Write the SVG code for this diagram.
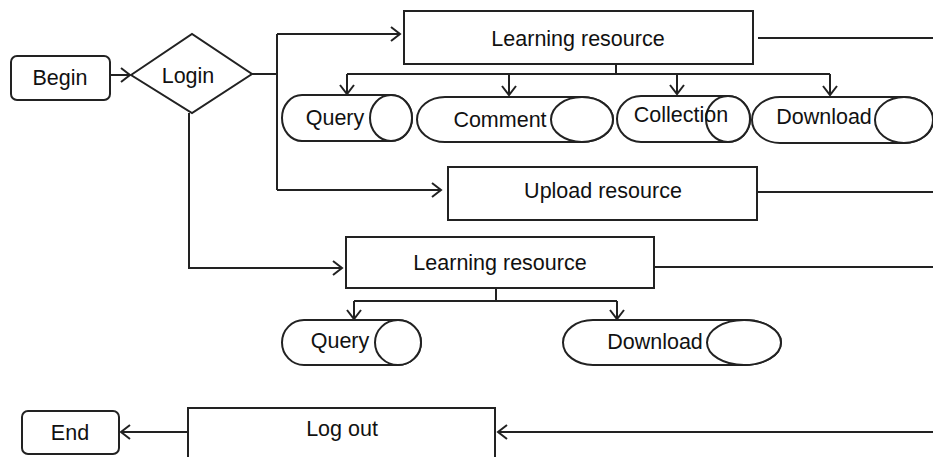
<svg xmlns="http://www.w3.org/2000/svg" width="933" height="457" viewBox="0 0 933 457">
<style>
.s{fill:#fff;stroke:#222;stroke-width:2}
.c{fill:none;stroke:#222;stroke-width:2}
.t{font-family:"Liberation Sans",Arial,sans-serif;font-size:21.5px;fill:#111;text-anchor:middle}
</style>
<defs>
<marker id="a" markerUnits="userSpaceOnUse" markerWidth="12" markerHeight="16" refX="10" refY="8" orient="auto">
<path d="M1,1 L10,8 L1,15" fill="none" stroke="#222" stroke-width="2"/>
</marker>
</defs>
<rect width="933" height="457" fill="#fff"/>
<g id="connectors" class="c">
<line x1="110" y1="75" x2="130" y2="75" marker-end="url(#a)"/>
<polyline points="252,74 277,74"/>
<line x1="277" y1="34" x2="277" y2="190"/>
<line x1="277" y1="34" x2="400" y2="34" marker-end="url(#a)"/>
<line x1="277" y1="190" x2="441" y2="190" marker-end="url(#a)"/>
<polyline points="189,113 189,268 342,268" marker-end="url(#a)"/>
<line x1="616" y1="64" x2="616" y2="74"/>
<line x1="347" y1="74" x2="830" y2="74"/>
<line x1="347" y1="74" x2="347" y2="94" marker-end="url(#a)"/>
<line x1="509" y1="74" x2="509" y2="95" marker-end="url(#a)"/>
<line x1="677" y1="74" x2="677" y2="94" marker-end="url(#a)"/>
<line x1="830" y1="74" x2="830" y2="95" marker-end="url(#a)"/>
<line x1="496" y1="289" x2="496" y2="301"/>
<line x1="354" y1="301" x2="617" y2="301"/>
<line x1="354" y1="301" x2="354" y2="319" marker-end="url(#a)"/>
<line x1="617" y1="301" x2="617" y2="319" marker-end="url(#a)"/>
<line x1="758" y1="38" x2="933" y2="38"/>
<line x1="757" y1="192" x2="933" y2="192"/>
<line x1="654" y1="267" x2="933" y2="267"/>
<line x1="933" y1="432" x2="498" y2="432" marker-end="url(#a)"/>
<line x1="188" y1="432" x2="121" y2="432" marker-end="url(#a)"/>
</g>
<g id="begin"><rect class="s" x="11" y="56" width="99" height="44" rx="6"/><text class="t" x="60" y="85">Begin</text></g>
<g id="login"><polygon class="s" points="131,75 192,34 252,74 192,113"/><text class="t" x="188" y="83">Login</text></g>
<g id="learning1"><rect class="s" x="404" y="11" width="349" height="53"/><text class="t" x="578" y="46">Learning resource</text></g>
<g id="query1"><path class="s" d="M302,95 H391 A21,23 0 0 1 391,141 H302 A20,23 0 0 1 302,95 Z"/><ellipse class="s" cx="391" cy="118" rx="21" ry="23"/><text class="t" x="335" y="125">Query</text></g>
<g id="comment"><path class="s" d="M445,97 H582 A31,22.5 0 0 1 582,142 H445 A28,22.5 0 0 1 445,97 Z"/><ellipse class="s" cx="582" cy="119.5" rx="31" ry="22.5"/><text class="t" x="500" y="127">Comment</text></g>
<g id="collection"><path class="s" d="M641,96 H728 A22,23 0 0 1 728,142 H641 A24,23 0 0 1 641,96 Z"/><ellipse class="s" cx="728" cy="119" rx="22" ry="23"/><text class="t" x="681" y="122">Collection</text></g>
<g id="download1"><path class="s" d="M780,97 H904 A29,23 0 0 1 904,143 H780 A28,23 0 0 1 780,97 Z"/><ellipse class="s" cx="904" cy="120" rx="29" ry="23"/><text class="t" x="824" y="124">Download</text></g>
<g id="upload"><rect class="s" x="448" y="167" width="309" height="53"/><text class="t" x="603" y="198">Upload resource</text></g>
<g id="learning2"><rect class="s" x="346" y="237" width="308" height="51"/><text class="t" x="500" y="270">Learning resource</text></g>
<g id="query2"><path class="s" d="M304,320 H398 A23,22.5 0 0 1 398,365 H304 A22,22.5 0 0 1 304,320 Z"/><ellipse class="s" cx="398" cy="342.5" rx="23" ry="22.5"/><text class="t" x="340" y="348">Query</text></g>
<g id="download2"><path class="s" d="M593,320 H744 A37,22.5 0 0 1 744,365 H593 A30,22.5 0 0 1 593,320 Z"/><ellipse class="s" cx="744" cy="342.5" rx="37" ry="22.5"/><text class="t" x="655" y="349">Download</text></g>
<g id="logout"><rect class="s" x="188" y="408" width="307" height="62"/><text class="t" x="342" y="436">Log out</text></g>
<g id="end"><rect class="s" x="22" y="411" width="97" height="43" rx="6"/><text class="t" x="70" y="440">End</text></g>
</svg>
